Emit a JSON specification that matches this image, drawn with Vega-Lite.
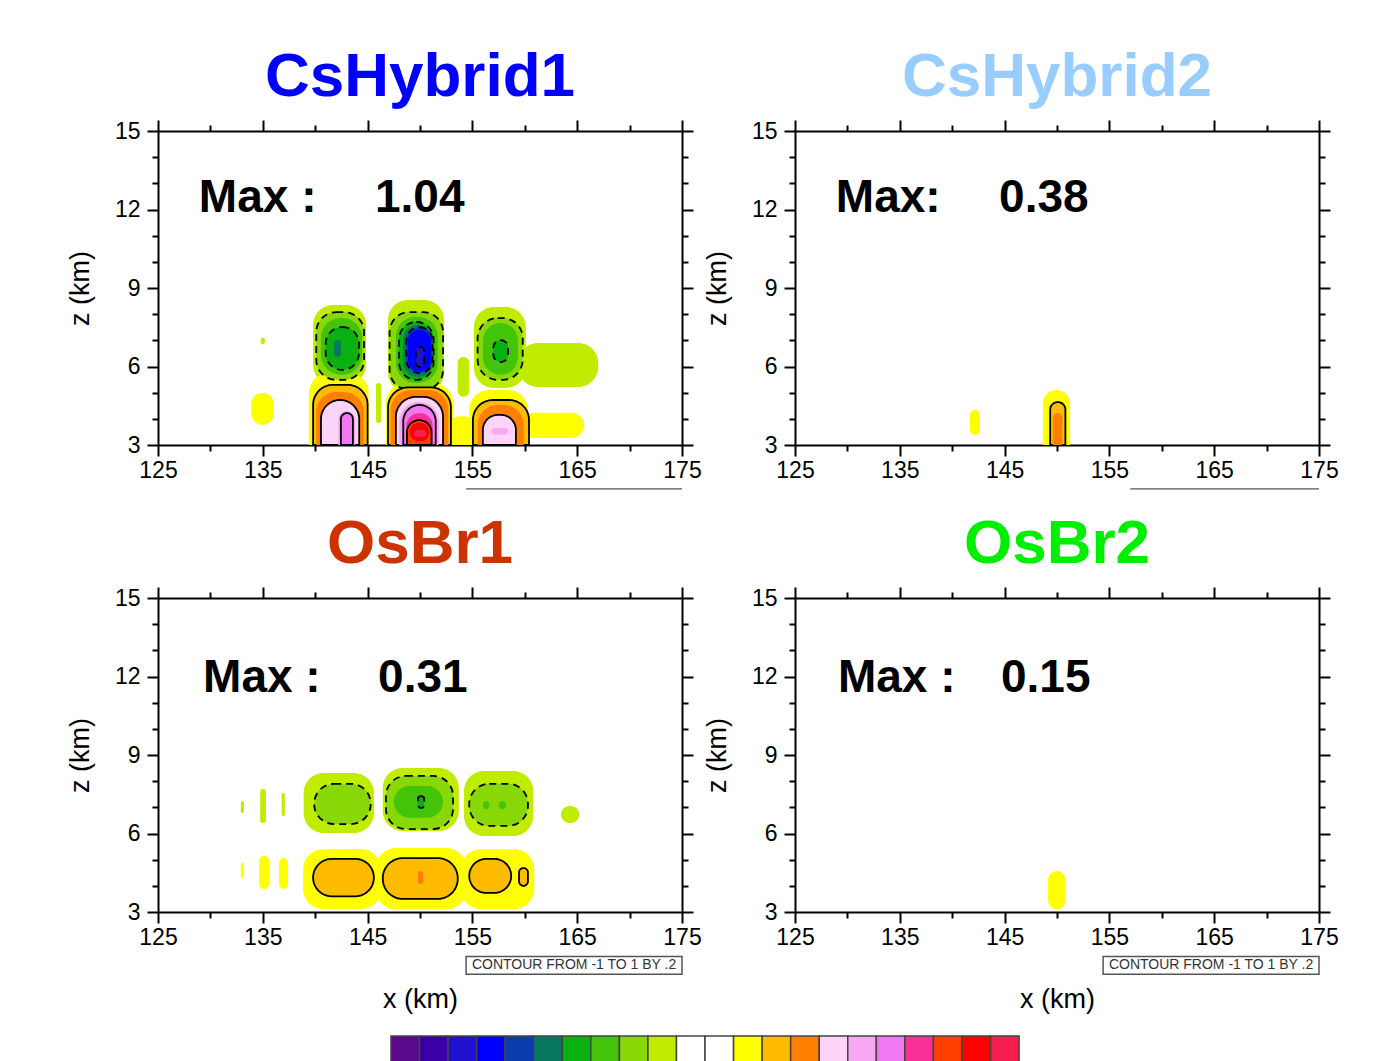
{
"$schema":"https://vega.github.io/schema/vega-lite/v6.json",
"background":"white",
"padding":{"left":66,"top":46,"right":0,"bottom":0},
"config":{
 "font":"Liberation Sans",
 "view":{"stroke":null},
 "title":{"fontSize":62,"font":"Liberation Sans","fontWeight":"bold","offset":10,"frame":"group","anchor":"middle"},
 "axis":{"domainColor":"black","domainWidth":2,"tickColor":"black","tickWidth":2,"labelFont":"Liberation Sans","labelFontSize":23,"labelColor":"black","labelFlush":false,"labelOverlap":false,"grid":false,"titleFont":"Liberation Sans","titleFontSize":27,"titleFontWeight":"normal","titleColor":"black"}
},
"datasets":{
 "contours":[
  {"p":1,"level":-0.1,"x0":134.8,"x1":135.2,"z0":6.85,"z1":7.1},
  {"p":1,"level":-0.1,"x0":139.8,"x1":144.85,"z0":5.3,"z1":8.35},
  {"p":1,"level":-0.1,"x0":146.95,"x1":152.3,"z0":5.0,"z1":8.54},
  {"p":1,"level":-0.1,"x0":145.8,"x1":146.3,"z0":3.84,"z1":5.37},
  {"p":1,"level":-0.1,"x0":153.6,"x1":154.7,"z0":4.84,"z1":6.36},
  {"p":1,"level":-0.1,"x0":155.15,"x1":160.1,"z0":5.18,"z1":8.27},
  {"p":1,"level":-0.1,"x0":159.35,"x1":167.0,"z0":5.22,"z1":6.9},
  {"p":1,"level":0.1,"x0":133.9,"x1":136.05,"z0":3.77,"z1":5.0},
  {"p":1,"level":0.1,"x0":139.4,"x1":145.1,"z0":3.0,"z1":5.75},
  {"p":1,"level":0.1,"x0":146.75,"x1":153.15,"z0":3.0,"z1":5.37},
  {"p":1,"level":0.1,"x0":152.5,"x1":155.5,"z0":3.0,"z1":4.1},
  {"p":1,"level":0.1,"x0":154.7,"x1":160.3,"z0":3.0,"z1":5.1},
  {"p":1,"level":0.1,"x0":159.6,"x1":165.65,"z0":3.27,"z1":4.23},
  {"p":1,"level":-0.2,"x0":140.1,"x1":144.66,"z0":5.49,"z1":8.08},
  {"p":1,"level":-0.2,"x0":147.1,"x1":152.2,"z0":5.1,"z1":8.08},
  {"p":1,"level":-0.2,"x0":155.5,"x1":159.8,"z0":5.49,"z1":7.85},
  {"p":1,"level":0.2,"x0":139.8,"x1":145.0,"z0":3.0,"z1":5.3},
  {"p":1,"level":0.2,"x0":146.95,"x1":152.95,"z0":3.0,"z1":5.2},
  {"p":1,"level":0.2,"x0":155.05,"x1":160.4,"z0":3.0,"z1":4.72},
  {"p":1,"level":-0.3,"x0":140.55,"x1":144.47,"z0":5.68,"z1":7.85},
  {"p":1,"level":-0.3,"x0":147.7,"x1":151.7,"z0":5.37,"z1":7.9},
  {"p":1,"level":-0.3,"x0":156.0,"x1":159.35,"z0":5.68,"z1":7.66},
  {"p":1,"level":0.3,"x0":140.1,"x1":144.65,"z0":3.0,"z1":5.03},
  {"p":1,"level":0.3,"x0":147.2,"x1":152.7,"z0":3.0,"z1":5.1},
  {"p":1,"level":0.3,"x0":155.5,"x1":159.9,"z0":3.0,"z1":4.53},
  {"p":1,"level":-0.4,"x0":141.0,"x1":144.18,"z0":5.87,"z1":7.51},
  {"p":1,"level":-0.4,"x0":148.0,"x1":151.3,"z0":5.49,"z1":7.7},
  {"p":1,"level":-0.4,"x0":157.0,"x1":158.4,"z0":6.17,"z1":7.01},
  {"p":1,"level":0.4,"x0":140.55,"x1":144.2,"z0":3.0,"z1":4.72},
  {"p":1,"level":0.4,"x0":147.7,"x1":152.2,"z0":3.0,"z1":4.84},
  {"p":1,"level":0.4,"x0":156.0,"x1":159.15,"z0":3.0,"z1":4.15},
  {"p":1,"level":-0.5,"x0":141.8,"x1":142.46,"z0":6.36,"z1":7.01},
  {"p":1,"level":-0.5,"x0":148.4,"x1":151.2,"z0":5.6,"z1":7.59},
  {"p":1,"level":0.5,"x0":142.2,"x1":143.8,"z0":3.0,"z1":4.3},
  {"p":1,"level":0.5,"x0":148.0,"x1":151.8,"z0":3.0,"z1":4.64},
  {"p":1,"level":0.5,"x0":156.8,"x1":158.4,"z0":3.4,"z1":3.65},
  {"p":1,"level":-0.6,"x0":148.7,"x1":151.2,"z0":5.75,"z1":7.5},
  {"p":1,"level":0.6,"x0":142.45,"x1":143.6,"z0":3.0,"z1":4.22},
  {"p":1,"level":0.6,"x0":148.4,"x1":151.5,"z0":3.0,"z1":4.53},
  {"p":1,"level":-0.7,"x0":148.85,"x1":151.05,"z0":5.8,"z1":7.4},
  {"p":1,"level":0.7,"x0":148.7,"x1":151.2,"z0":3.0,"z1":4.22},
  {"p":1,"level":-0.8,"x0":149.6,"x1":150.4,"z0":5.98,"z1":6.75},
  {"p":1,"level":0.8,"x0":148.75,"x1":151.1,"z0":3.0,"z1":3.95},
  {"p":1,"level":0.9,"x0":149.0,"x1":150.9,"z0":3.15,"z1":3.85},
  {"p":1,"level":1.0,"x0":149.4,"x1":150.6,"z0":3.3,"z1":3.57},
  {"p":2,"level":0.1,"x0":141.7,"x1":142.65,"z0":3.38,"z1":4.34},
  {"p":2,"level":0.1,"x0":148.65,"x1":151.25,"z0":3.0,"z1":5.1},
  {"p":2,"level":0.2,"x0":149.35,"x1":150.8,"z0":3.0,"z1":4.64},
  {"p":2,"level":0.3,"x0":149.6,"x1":150.5,"z0":3.0,"z1":4.22},
  {"p":3,"level":-0.1,"x0":132.9,"x1":133.2,"z0":6.78,"z1":7.24},
  {"p":3,"level":-0.1,"x0":134.75,"x1":135.3,"z0":6.4,"z1":7.7},
  {"p":3,"level":-0.1,"x0":136.8,"x1":137.1,"z0":6.67,"z1":7.55},
  {"p":3,"level":-0.1,"x0":138.9,"x1":145.6,"z0":6.02,"z1":8.31},
  {"p":3,"level":-0.1,"x0":146.45,"x1":153.7,"z0":6.1,"z1":8.5},
  {"p":3,"level":-0.1,"x0":154.2,"x1":160.8,"z0":5.9,"z1":8.39},
  {"p":3,"level":-0.1,"x0":163.45,"x1":165.2,"z0":6.4,"z1":7.05},
  {"p":3,"level":0.1,"x0":132.9,"x1":133.2,"z0":4.3,"z1":4.87},
  {"p":3,"level":0.1,"x0":134.65,"x1":135.6,"z0":3.88,"z1":5.14},
  {"p":3,"level":0.1,"x0":136.55,"x1":137.4,"z0":3.88,"z1":5.06},
  {"p":3,"level":0.1,"x0":138.85,"x1":146.3,"z0":3.11,"z1":5.4},
  {"p":3,"level":0.1,"x0":145.8,"x1":154.4,"z0":3.1,"z1":5.45},
  {"p":3,"level":0.1,"x0":153.9,"x1":160.9,"z0":3.11,"z1":5.4},
  {"p":3,"level":-0.2,"x0":139.9,"x1":145.3,"z0":6.36,"z1":7.9},
  {"p":3,"level":-0.2,"x0":146.75,"x1":153.15,"z0":6.17,"z1":8.2},
  {"p":3,"level":-0.2,"x0":154.7,"x1":160.3,"z0":6.29,"z1":7.9},
  {"p":3,"level":0.2,"x0":139.8,"x1":145.6,"z0":3.6,"z1":5.03},
  {"p":3,"level":0.2,"x0":146.45,"x1":153.6,"z0":3.5,"z1":5.06},
  {"p":3,"level":0.2,"x0":154.7,"x1":158.7,"z0":3.73,"z1":5.03},
  {"p":3,"level":0.2,"x0":159.45,"x1":160.3,"z0":4.0,"z1":4.68},
  {"p":3,"level":-0.3,"x0":147.5,"x1":152.2,"z0":6.6,"z1":7.82},
  {"p":3,"level":-0.3,"x0":156.0,"x1":156.6,"z0":6.93,"z1":7.24},
  {"p":3,"level":-0.3,"x0":157.5,"x1":158.2,"z0":6.93,"z1":7.24},
  {"p":3,"level":0.3,"x0":149.8,"x1":150.3,"z0":4.07,"z1":4.57},
  {"p":3,"level":-0.4,"x0":149.8,"x1":150.4,"z0":6.97,"z1":7.43},
  {"p":4,"level":0.1,"x0":149.15,"x1":150.8,"z0":3.11,"z1":4.57}
 ],
 "maxes":[
  {"p":1,"label":"Max :","value":"1.04"},
  {"p":2,"label":"Max:","value":"0.38"},
  {"p":3,"label":"Max :","value":"0.31"},
  {"p":4,"label":"Max :","value":"0.15"}
 ],
 "cbar":[
  {"k0":0,"k1":1,"level":-1},{"k0":1,"k1":2,"level":-0.9},{"k0":2,"k1":3,"level":-0.8},{"k0":3,"k1":4,"level":-0.7},{"k0":4,"k1":5,"level":-0.6},
  {"k0":5,"k1":6,"level":-0.5},{"k0":6,"k1":7,"level":-0.4},{"k0":7,"k1":8,"level":-0.3},{"k0":8,"k1":9,"level":-0.2},{"k0":9,"k1":10,"level":-0.1},
  {"k0":10,"k1":11,"level":-0.05},{"k0":11,"k1":12,"level":0.05},
  {"k0":12,"k1":13,"level":0.1},{"k0":13,"k1":14,"level":0.2},{"k0":14,"k1":15,"level":0.3},{"k0":15,"k1":16,"level":0.4},{"k0":16,"k1":17,"level":0.5},
  {"k0":17,"k1":18,"level":0.6},{"k0":18,"k1":19,"level":0.7},{"k0":19,"k1":20,"level":0.8},{"k0":20,"k1":21,"level":0.9},{"k0":21,"k1":22,"level":1}
 ]
},
"vconcat":[
 {"hconcat":[
  {"width":524,"height":314,
   "title":{"text":"CsHybrid1","color":"#0000ff"},
   "layer":[
    {"data":{"name":"contours"},"transform":[{"filter":"datum.p==1"}],
     "mark":{"type":"rect","opacity":1,"stroke":"black","strokeWidth":1.8,"strokeDash":{"expr":"datum.level < 0 ? [7,5] : [1,0]"},"cornerRadiusTopLeft":20,"cornerRadiusTopRight":20,"cornerRadiusBottomLeft":{"expr":"datum.z0<=3?0:20"},"cornerRadiusBottomRight":{"expr":"datum.z0<=3?0:20"}},
     "encoding":{
      "x":{"field":"x0","type":"quantitative","scale":{"domain":[125,175],"nice":false,"zero":false},"axis":{"orient":"bottom","values":[125,130,135,140,145,150,155,160,165,170,175],"labelExpr":"datum.value % 10 == 5 ? datum.label : ''","tickSize":{"condition":{"test":"datum.value % 10 == 5","value":11},"value":6},"labelPadding":3,"title":null}},
      "x2":{"field":"x1"},
      "y":{"field":"z1","type":"quantitative","scale":{"domain":[3,15],"nice":false,"zero":false},"axis":{"orient":"left","values":[3,4,5,6,7,8,9,10,11,12,13,14,15],"labelExpr":"datum.value % 3 == 0 ? datum.label : ''","tickSize":{"condition":{"test":"datum.value % 3 == 0","value":11},"value":6},"labelPadding":7,"title":"z  (km)","titlePadding":20}},
      "y2":{"field":"z0"},
      "color":{"field":"level","type":"ordinal","legend":null,"scale":{"domain":[-1,-0.9,-0.8,-0.7,-0.6,-0.5,-0.4,-0.3,-0.2,-0.1,-0.05,0.05,0.1,0.2,0.3,0.4,0.5,0.6,0.7,0.8,0.9,1],"range":["#5a0a8c","#3a00a8","#2010d0","#0000ff","#0a3cb0","#087860","#08b010","#44c408","#88d808","#c0ec00","#ffffff","#ffffff","#ffff00","#ffbb00","#ff8000","#fcd4fa","#f8a8f2","#f078f0","#f83098","#ff4000","#ff0000","#f81e50"]}},
      "strokeOpacity":{"condition":{"test":"abs(datum.level)==0.2 || abs(datum.level)==0.4 || abs(datum.level)==0.6 || abs(datum.level)==0.8","value":1},"value":0}
     }},
    {"data":{"name":"maxes"},"transform":[{"filter":"datum.p==1"}],
     "mark":{"type":"text","align":"left","baseline":"middle","fontSize":46,"fontWeight":"bold","color":"black"},
     "encoding":{
      "x":{"datum":128.9,"type":"quantitative","axis":{"orient":"top","values":[125,130,135,140,145,150,155,160,165,170,175],"labels":false,"tickSize":{"condition":{"test":"datum.value % 10 == 5","value":11},"value":6},"title":null}},
      "y":{"datum":12.44,"type":"quantitative","axis":{"orient":"right","values":[3,4,5,6,7,8,9,10,11,12,13,14,15],"labels":false,"tickSize":{"condition":{"test":"datum.value % 3 == 0","value":11},"value":6},"title":null}},
      "text":{"field":"label"}}},
    {"data":{"name":"maxes"},"transform":[{"filter":"datum.p==1"}],
     "mark":{"type":"text","align":"left","baseline":"middle","fontSize":46,"fontWeight":"bold","color":"black"},
     "encoding":{"x":{"datum":145.7,"type":"quantitative","axis":null},"y":{"datum":12.44,"type":"quantitative","axis":null},"text":{"field":"value"}}},
    {"data":{"values":[{}]},"mark":{"type":"rule","clip":false,"strokeWidth":1.3,"color":"#555"},
     "encoding":{"x":{"datum":154.4,"type":"quantitative","axis":null},"x2":{"datum":175},"y":{"datum":1.32,"type":"quantitative","axis":null}}}
   ],
   "resolve":{"axis":{"x":"independent","y":"independent"}}
  },
  {"width":524,"height":314,
   "title":{"text":"CsHybrid2","color":"#99ccff"},
   "layer":[
    {"data":{"name":"contours"},"transform":[{"filter":"datum.p==2"}],
     "mark":{"type":"rect","opacity":1,"stroke":"black","strokeWidth":1.8,"strokeDash":{"expr":"datum.level < 0 ? [7,5] : [1,0]"},"cornerRadiusTopLeft":20,"cornerRadiusTopRight":20,"cornerRadiusBottomLeft":{"expr":"datum.z0<=3?0:20"},"cornerRadiusBottomRight":{"expr":"datum.z0<=3?0:20"}},
     "encoding":{
      "x":{"field":"x0","type":"quantitative","scale":{"domain":[125,175],"nice":false,"zero":false},"axis":{"orient":"bottom","values":[125,130,135,140,145,150,155,160,165,170,175],"labelExpr":"datum.value % 10 == 5 ? datum.label : ''","tickSize":{"condition":{"test":"datum.value % 10 == 5","value":11},"value":6},"labelPadding":3,"title":null}},
      "x2":{"field":"x1"},
      "y":{"field":"z1","type":"quantitative","scale":{"domain":[3,15],"nice":false,"zero":false},"axis":{"orient":"left","values":[3,4,5,6,7,8,9,10,11,12,13,14,15],"labelExpr":"datum.value % 3 == 0 ? datum.label : ''","tickSize":{"condition":{"test":"datum.value % 3 == 0","value":11},"value":6},"labelPadding":7,"title":"z  (km)","titlePadding":20}},
      "y2":{"field":"z0"},
      "color":{"field":"level","type":"ordinal","legend":null,"scale":{"domain":[-1,-0.9,-0.8,-0.7,-0.6,-0.5,-0.4,-0.3,-0.2,-0.1,-0.05,0.05,0.1,0.2,0.3,0.4,0.5,0.6,0.7,0.8,0.9,1],"range":["#5a0a8c","#3a00a8","#2010d0","#0000ff","#0a3cb0","#087860","#08b010","#44c408","#88d808","#c0ec00","#ffffff","#ffffff","#ffff00","#ffbb00","#ff8000","#fcd4fa","#f8a8f2","#f078f0","#f83098","#ff4000","#ff0000","#f81e50"]}},
      "strokeOpacity":{"condition":{"test":"abs(datum.level)==0.2 || abs(datum.level)==0.4 || abs(datum.level)==0.6 || abs(datum.level)==0.8","value":1},"value":0}
     }},
    {"data":{"name":"maxes"},"transform":[{"filter":"datum.p==2"}],
     "mark":{"type":"text","align":"left","baseline":"middle","fontSize":46,"fontWeight":"bold","color":"black"},
     "encoding":{
      "x":{"datum":128.9,"type":"quantitative","axis":{"orient":"top","values":[125,130,135,140,145,150,155,160,165,170,175],"labels":false,"tickSize":{"condition":{"test":"datum.value % 10 == 5","value":11},"value":6},"title":null}},
      "y":{"datum":12.44,"type":"quantitative","axis":{"orient":"right","values":[3,4,5,6,7,8,9,10,11,12,13,14,15],"labels":false,"tickSize":{"condition":{"test":"datum.value % 3 == 0","value":11},"value":6},"title":null}},
      "text":{"field":"label"}}},
    {"data":{"name":"maxes"},"transform":[{"filter":"datum.p==2"}],
     "mark":{"type":"text","align":"left","baseline":"middle","fontSize":46,"fontWeight":"bold","color":"black"},
     "encoding":{"x":{"datum":144.47,"type":"quantitative","axis":null},"y":{"datum":12.44,"type":"quantitative","axis":null},"text":{"field":"value"}}},
    {"data":{"values":[{}]},"mark":{"type":"rule","clip":false,"strokeWidth":1.3,"color":"#555"},
     "encoding":{"x":{"datum":157.0,"type":"quantitative","axis":null},"x2":{"datum":175},"y":{"datum":1.32,"type":"quantitative","axis":null}}}
   ],
   "resolve":{"axis":{"x":"independent","y":"independent"}}
  }
 ],"spacing":1},
 {"hconcat":[
  {"width":524,"height":314,
   "title":{"text":"OsBr1","color":"#cc3300"},
   "layer":[
    {"data":{"name":"contours"},"transform":[{"filter":"datum.p==3"}],
     "mark":{"type":"rect","opacity":1,"stroke":"black","strokeWidth":1.8,"strokeDash":{"expr":"datum.level < 0 ? [7,5] : [1,0]"},"cornerRadiusTopLeft":20,"cornerRadiusTopRight":20,"cornerRadiusBottomLeft":{"expr":"datum.z0<=3?0:20"},"cornerRadiusBottomRight":{"expr":"datum.z0<=3?0:20"}},
     "encoding":{
      "x":{"field":"x0","type":"quantitative","scale":{"domain":[125,175],"nice":false,"zero":false},"axis":{"orient":"bottom","values":[125,130,135,140,145,150,155,160,165,170,175],"labelExpr":"datum.value % 10 == 5 ? datum.label : ''","tickSize":{"condition":{"test":"datum.value % 10 == 5","value":11},"value":6},"labelPadding":3,"title":"x  (km)","titlePadding":37}},
      "x2":{"field":"x1"},
      "y":{"field":"z1","type":"quantitative","scale":{"domain":[3,15],"nice":false,"zero":false},"axis":{"orient":"left","values":[3,4,5,6,7,8,9,10,11,12,13,14,15],"labelExpr":"datum.value % 3 == 0 ? datum.label : ''","tickSize":{"condition":{"test":"datum.value % 3 == 0","value":11},"value":6},"labelPadding":7,"title":"z  (km)","titlePadding":20}},
      "y2":{"field":"z0"},
      "color":{"field":"level","type":"ordinal","legend":null,"scale":{"domain":[-1,-0.9,-0.8,-0.7,-0.6,-0.5,-0.4,-0.3,-0.2,-0.1,-0.05,0.05,0.1,0.2,0.3,0.4,0.5,0.6,0.7,0.8,0.9,1],"range":["#5a0a8c","#3a00a8","#2010d0","#0000ff","#0a3cb0","#087860","#08b010","#44c408","#88d808","#c0ec00","#ffffff","#ffffff","#ffff00","#ffbb00","#ff8000","#fcd4fa","#f8a8f2","#f078f0","#f83098","#ff4000","#ff0000","#f81e50"]}},
      "strokeOpacity":{"condition":{"test":"abs(datum.level)==0.2 || abs(datum.level)==0.4 || abs(datum.level)==0.6 || abs(datum.level)==0.8","value":1},"value":0}
     }},
    {"data":{"name":"maxes"},"transform":[{"filter":"datum.p==3"}],
     "mark":{"type":"text","align":"left","baseline":"middle","fontSize":46,"fontWeight":"bold","color":"black"},
     "encoding":{
      "x":{"datum":129.3,"type":"quantitative","axis":{"orient":"top","values":[125,130,135,140,145,150,155,160,165,170,175],"labels":false,"tickSize":{"condition":{"test":"datum.value % 10 == 5","value":11},"value":6},"title":null}},
      "y":{"datum":11.94,"type":"quantitative","axis":{"orient":"right","values":[3,4,5,6,7,8,9,10,11,12,13,14,15],"labels":false,"tickSize":{"condition":{"test":"datum.value % 3 == 0","value":11},"value":6},"title":null}},
      "text":{"field":"label"}}},
    {"data":{"name":"maxes"},"transform":[{"filter":"datum.p==3"}],
     "mark":{"type":"text","align":"left","baseline":"middle","fontSize":46,"fontWeight":"bold","color":"black"},
     "encoding":{"x":{"datum":146.0,"type":"quantitative","axis":null},"y":{"datum":11.94,"type":"quantitative","axis":null},"text":{"field":"value"}}},
    {"data":{"values":[{}]},"mark":{"type":"rect","clip":false,"fill":"white","stroke":"#555","strokeWidth":1.5},
     "encoding":{"x":{"datum":154.4,"type":"quantitative","axis":null},"x2":{"datum":175},"y":{"datum":1.3,"type":"quantitative","axis":null},"y2":{"datum":0.62}}},
    {"data":{"values":[{"t":"CONTOUR FROM -1 TO 1 BY .2"}]},"mark":{"type":"text","clip":false,"fontSize":14,"color":"#333","align":"center","baseline":"middle"},
     "encoding":{"x":{"datum":164.7,"type":"quantitative","axis":null},"y":{"datum":0.96,"type":"quantitative","axis":null},"text":{"field":"t"}}}
   ],
   "resolve":{"axis":{"x":"independent","y":"independent"}}
  },
  {"width":524,"height":314,
   "title":{"text":"OsBr2","color":"#00ee00"},
   "layer":[
    {"data":{"name":"contours"},"transform":[{"filter":"datum.p==4"}],
     "mark":{"type":"rect","opacity":1,"stroke":"black","strokeWidth":1.8,"strokeDash":{"expr":"datum.level < 0 ? [7,5] : [1,0]"},"cornerRadiusTopLeft":20,"cornerRadiusTopRight":20,"cornerRadiusBottomLeft":{"expr":"datum.z0<=3?0:20"},"cornerRadiusBottomRight":{"expr":"datum.z0<=3?0:20"}},
     "encoding":{
      "x":{"field":"x0","type":"quantitative","scale":{"domain":[125,175],"nice":false,"zero":false},"axis":{"orient":"bottom","values":[125,130,135,140,145,150,155,160,165,170,175],"labelExpr":"datum.value % 10 == 5 ? datum.label : ''","tickSize":{"condition":{"test":"datum.value % 10 == 5","value":11},"value":6},"labelPadding":3,"title":"x  (km)","titlePadding":37}},
      "x2":{"field":"x1"},
      "y":{"field":"z1","type":"quantitative","scale":{"domain":[3,15],"nice":false,"zero":false},"axis":{"orient":"left","values":[3,4,5,6,7,8,9,10,11,12,13,14,15],"labelExpr":"datum.value % 3 == 0 ? datum.label : ''","tickSize":{"condition":{"test":"datum.value % 3 == 0","value":11},"value":6},"labelPadding":7,"title":"z  (km)","titlePadding":20}},
      "y2":{"field":"z0"},
      "color":{"field":"level","type":"ordinal","legend":null,"scale":{"domain":[-1,-0.9,-0.8,-0.7,-0.6,-0.5,-0.4,-0.3,-0.2,-0.1,-0.05,0.05,0.1,0.2,0.3,0.4,0.5,0.6,0.7,0.8,0.9,1],"range":["#5a0a8c","#3a00a8","#2010d0","#0000ff","#0a3cb0","#087860","#08b010","#44c408","#88d808","#c0ec00","#ffffff","#ffffff","#ffff00","#ffbb00","#ff8000","#fcd4fa","#f8a8f2","#f078f0","#f83098","#ff4000","#ff0000","#f81e50"]}},
      "strokeOpacity":{"condition":{"test":"abs(datum.level)==0.2 || abs(datum.level)==0.4 || abs(datum.level)==0.6 || abs(datum.level)==0.8","value":1},"value":0}
     }},
    {"data":{"name":"maxes"},"transform":[{"filter":"datum.p==4"}],
     "mark":{"type":"text","align":"left","baseline":"middle","fontSize":46,"fontWeight":"bold","color":"black"},
     "encoding":{
      "x":{"datum":129.1,"type":"quantitative","axis":{"orient":"top","values":[125,130,135,140,145,150,155,160,165,170,175],"labels":false,"tickSize":{"condition":{"test":"datum.value % 10 == 5","value":11},"value":6},"title":null}},
      "y":{"datum":11.94,"type":"quantitative","axis":{"orient":"right","values":[3,4,5,6,7,8,9,10,11,12,13,14,15],"labels":false,"tickSize":{"condition":{"test":"datum.value % 3 == 0","value":11},"value":6},"title":null}},
      "text":{"field":"label"}}},
    {"data":{"name":"maxes"},"transform":[{"filter":"datum.p==4"}],
     "mark":{"type":"text","align":"left","baseline":"middle","fontSize":46,"fontWeight":"bold","color":"black"},
     "encoding":{"x":{"datum":144.65,"type":"quantitative","axis":null},"y":{"datum":11.94,"type":"quantitative","axis":null},"text":{"field":"value"}}},
    {"data":{"values":[{}]},"mark":{"type":"rect","clip":false,"fill":"white","stroke":"#555","strokeWidth":1.5},
     "encoding":{"x":{"datum":154.4,"type":"quantitative","axis":null},"x2":{"datum":175},"y":{"datum":1.3,"type":"quantitative","axis":null},"y2":{"datum":0.62}}},
    {"data":{"values":[{"t":"CONTOUR FROM -1 TO 1 BY .2"}]},"mark":{"type":"text","clip":false,"fontSize":14,"color":"#333","align":"center","baseline":"middle"},
     "encoding":{"x":{"datum":164.7,"type":"quantitative","axis":null},"y":{"datum":0.96,"type":"quantitative","axis":null},"text":{"field":"t"}}}
   ],
   "resolve":{"axis":{"x":"independent","y":"independent"}}
  }
 ],"spacing":1},
 {"width":1162,"height":40,
  "data":{"name":"cbar"},
  "mark":{"type":"rect","stroke":"#444","strokeWidth":1.5,"opacity":1},
  "encoding":{
   "x":{"field":"k0","type":"quantitative","axis":null,"scale":{"domain":[-8.16,32.54],"nice":false,"zero":false}},
   "x2":{"field":"k1"},
   "color":{"field":"level","type":"ordinal","legend":null,"scale":{"domain":[-1,-0.9,-0.8,-0.7,-0.6,-0.5,-0.4,-0.3,-0.2,-0.1,-0.05,0.05,0.1,0.2,0.3,0.4,0.5,0.6,0.7,0.8,0.9,1],"range":["#5a0a8c","#3a00a8","#2010d0","#0000ff","#0a3cb0","#087860","#08b010","#44c408","#88d808","#c0ec00","#ffffff","#ffffff","#ffff00","#ffbb00","#ff8000","#fcd4fa","#f8a8f2","#f078f0","#f83098","#ff4000","#ff0000","#f81e50"]}}
  }}
],
"spacing":23
}
